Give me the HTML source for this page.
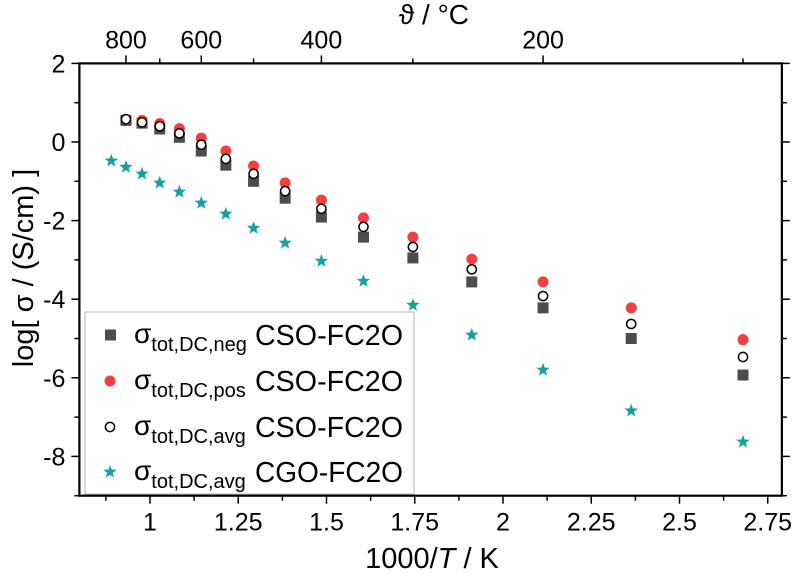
<!DOCTYPE html>
<html><head><meta charset="utf-8"><style>
body{margin:0;background:#fff}
svg{display:block;font-family:"Liberation Sans",sans-serif}
</style></head><body>
<svg id="chart" width="795" height="575" viewBox="0 0 795 575"></svg>
<script>
const xCelsius=[800,750,700,650,600,550,500,450,400,350,300,250,200,150,100];
const negVals=[0.55,0.48,0.33,0.12,-0.23,-0.59,-1.0,-1.43,-1.91,-2.42,-2.95,-3.56,-4.22,-5.0,-5.93];
const posVals=[0.58,0.55,0.47,0.34,0.1,-0.23,-0.61,-1.04,-1.48,-1.93,-2.42,-2.98,-3.56,-4.22,-5.03];
const avgVals=[0.58,0.5,0.4,0.22,-0.07,-0.43,-0.81,-1.25,-1.7,-2.16,-2.67,-3.24,-3.92,-4.63,-5.47];
const cgoCelsius=[850,800,750,700,650,600,550,500,450,400,350,300,250,200,150,100];
const cgoVals=[-0.48,-0.64,-0.81,-1.04,-1.27,-1.55,-1.83,-2.19,-2.57,-3.03,-3.54,-4.15,-4.91,-5.8,-6.84,-7.63];
const xTicks=[1,1.25,1.5,1.75,2,2.25,2.5,2.75];
const xTickLabels=["1","1.25","1.5","1.75","2","2.25","2.5","2.75"];
const yTicks=[2,0,-2,-4,-6,-8];
const yTickLabels=["2","0","-2","-4","-6","-8"];
const topTicks=[800,600,400,200];
const topMinor=[700,500,300,100];

const NS="http://www.w3.org/2000/svg";
const svg=document.getElementById('chart');
const X=v=>150+(v-1)*353;
const Y=v=>142-v*39.3;
const inv=c=>1000/(c+273.15);
const L=X(0.8),R=X(2.79),T=Y(2),B=Y(-9);
function el(tag,attrs,parent){const e=document.createElementNS(NS,tag);for(const k in attrs)e.setAttribute(k,attrs[k]);(parent||svg).appendChild(e);return e;}

const frame=el('rect',{x:L,y:T,width:R-L,height:B-T,fill:'none',stroke:'#000','stroke-width':2.2});



for(let v=0.875;v<=2.76;v+=0.125){
  const major=Math.abs((v*4)-Math.round(v*4))<1e-6;
  el('line',{x1:X(v),x2:X(v),y1:B,y2:B+(major?8:5),stroke:'#000','stroke-width':1.5});
}
xTicks.forEach((v,i)=>{
  const t=el('text',{x:X(v),y:B+35,'font-size':25,'text-anchor':'middle'});
  t.textContent=xTickLabels[i];
  
  
});
for(let v=-9;v<=2;v+=1){
  const major=v%2===0;
  el('line',{x1:L,x2:L-(major?8:5),y1:Y(v),y2:Y(v),stroke:'#000','stroke-width':1.5});
  el('line',{x1:R,x2:R+(major?8:5),y1:Y(v),y2:Y(v),stroke:'#000','stroke-width':1.5});
}
yTicks.forEach((v,i)=>{
  const t=el('text',{x:L-14,y:Y(v)+9,'font-size':25,'text-anchor':'end'});
  t.textContent=yTickLabels[i];
  
  
});
topTicks.forEach(c=>{
  el('line',{x1:X(inv(c)),x2:X(inv(c)),y1:T,y2:T-8,stroke:'#000','stroke-width':1.5});
  const t=el('text',{x:X(inv(c)),y:T-15,'font-size':25,'text-anchor':'middle'});
  t.textContent=String(c);
  
  
});
topMinor.forEach(c=>{el('line',{x1:X(inv(c)),x2:X(inv(c)),y1:T,y2:T-5,stroke:'#000','stroke-width':1.5});});

let t=el('text',{x:434,y:24,'font-size':28,'text-anchor':'middle'});t.textContent='ϑ / °C';

t=el('text',{x:432,y:568,'font-size':29,'text-anchor':'middle'});
t.innerHTML='1000/<tspan font-style="italic">T</tspan> / K';

t=el('text',{x:0,y:0,'font-size':29,'text-anchor':'middle',transform:'translate(33,268) rotate(-90)'});
t.textContent='log[ σ / (S/cm) ]';


function star(cx,cy,r,fill,parent){
  let p='';for(let i=0;i<10;i++){const a=-Math.PI/2+i*Math.PI/5;const rr=i%2?r*0.42:r;p+=(cx+rr*Math.cos(a)).toFixed(1)+','+(cy+rr*Math.sin(a)).toFixed(1)+' ';}
  return el('polygon',{points:p,fill:fill},parent);
}
const g=el('g',{});
xCelsius.forEach((c,i)=>{
  const s=el('rect',{x:X(inv(c))-5.5,y:Y(negVals[i])-5.5,width:11,height:11,fill:'#4d4d4d'},g);
  
});
xCelsius.forEach((c,i)=>{
  const s=el('circle',{cx:X(inv(c)),cy:Y(posVals[i]),r:5.5,fill:'#f04040'},g);
  
});
xCelsius.forEach((c,i)=>{
  const s=el('circle',{cx:X(inv(c)),cy:Y(avgVals[i]),r:4.6,fill:'#fff',stroke:'#000','stroke-width':1.5},g);
  
});
cgoCelsius.forEach((c,i)=>{
  const s=star(X(inv(c)),Y(cgoVals[i]),7,'#16a0a0',g);
  
});

const lg=el('g',{});
el('rect',{x:85,y:312,width:329,height:182,fill:'#fff',stroke:'#b0b0b0','stroke-width':1},lg);
const legendSubs=['neg','pos','avg','avg'];
const legendNames=['CSO-FC2O','CSO-FC2O','CSO-FC2O','CGO-FC2O'];
const ly=[335,381,427,472];
ly.forEach((y,i)=>{
  if(i===0)el('rect',{x:105,y:y-5.5,width:11,height:11,fill:'#4d4d4d'},lg);
  if(i===1)el('circle',{cx:110,cy:y,r:5.5,fill:'#f04040'},lg);
  if(i===2)el('circle',{cx:110,cy:y,r:4.6,fill:'#fff',stroke:'#000','stroke-width':1.5},lg);
  if(i===3)star(110,y,7,'#16a0a0',lg);
  const tx=el('text',{x:134,y:y+8,'font-size':28},lg);
  tx.innerHTML='σ<tspan font-size="20" dy="8">tot,DC,'+legendSubs[i]+'</tspan>';
  
  const tn=el('text',{x:255,y:y+10,'font-size':29,textLength:148,lengthAdjust:'spacingAndGlyphs'},lg);
  tn.textContent=legendNames[i];
  
});
</script>
</body></html>
